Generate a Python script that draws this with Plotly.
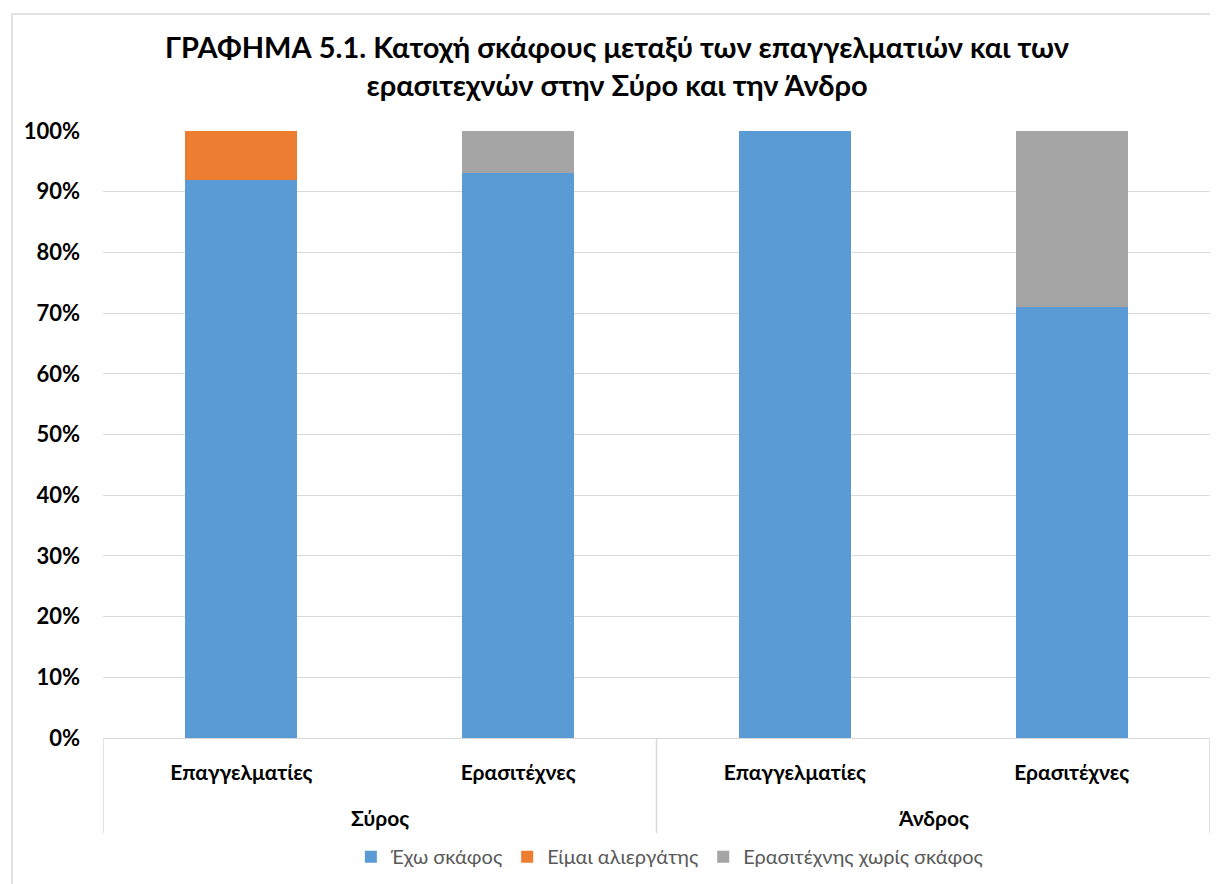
import plotly.graph_objects as go

islands = ["Σύρος", "Σύρος", "Άνδρος", "Άνδρος"]
groups = ["Επαγγελματίες", "Ερασιτέχνες", "Επαγγελματίες", "Ερασιτέχνες"]

have_boat = [0.92, 0.93, 1.00, 0.71]
fisher_worker = [0.08, 0.0, 0.0, 0.0]
amateur_no_boat = [0.0, 0.07, 0.0, 0.29]

series = [
    ("Έχω σκάφος", have_boat, "#5b9bd5"),
    ("Είμαι αλιεργάτης", fisher_worker, "#ed7d31"),
    ("Ερασιτέχνης χωρίς σκάφος", amateur_no_boat, "#a5a5a5"),
]

FONT = "Lato"
GRID = "#d9d9d9"
PLOT_H = 607
pos = list(range(len(groups)))

fig = go.Figure()
for name, vals, col in series:
    fig.add_trace(go.Bar(
        x=pos, y=vals, name=name,
        marker=dict(color=col, line=dict(width=0)),
        width=0.405,
    ))

fig.update_layout(
    barmode="stack",
    width=1218, height=884,
    paper_bgcolor="white", plot_bgcolor="white",
    margin=dict(l=95, r=16, t=123, b=154),
    font=dict(family=FONT, color="#000000"),
    title=dict(
        text="<b>ΓΡΑΦΗΜΑ 5.1. Κατοχή σκάφους μεταξύ των επαγγελματιών και των<br>ερασιτεχνών στην Σύρο και την Άνδρο</b>",
        x=0.5, xref="container", xanchor="center",
        y=0.943, yref="container", yanchor="top",
        font=dict(size=29, family=FONT, color="#000000"),
    ),
    legend=dict(
        orientation="h", x=0.543, xanchor="center", xref="container",
        y=0.04, yanchor="middle", yref="container",
        font=dict(size=20, color="#595959", family=FONT),
        traceorder="normal", itemwidth=30,
    ),
    showlegend=True,
)

fig.update_yaxes(
    range=[0, 1], tickformat=".0%", dtick=0.1,
    gridcolor=GRID, gridwidth=1,
    tickfont=dict(size=22, family=FONT, color="#000000"),
    tickprefix="<b>", ticksuffix="</b>",
    ticklabelstandoff=22,
    zeroline=False, showline=False,
)
fig.update_xaxes(
    range=[-0.5, len(groups) - 0.5],
    tickvals=pos, ticktext=[f"<b>{g}</b>" for g in groups],
    tickfont=dict(size=21, family=FONT, color="#000000"),
    ticklabelstandoff=16,
    showline=True, linecolor=GRID, linewidth=1,
    showgrid=False, zeroline=False, ticks="",
)

# group labels and dividers (multi-level category axis)
unique_islands = list(dict.fromkeys(islands))
bounds = [-0.5]
for isl in unique_islands:
    idx = [i for i, v in enumerate(islands) if v == isl]
    fig.add_annotation(
        x=sum(idx) / len(idx), xref="x", y=0, yref="paper",
        yshift=-79, yanchor="middle", showarrow=False,
        text=f"<b>{isl}</b>", font=dict(size=21, family=FONT, color="#000000"),
    )
    bounds.append(max(idx) + 0.5)
for b in bounds:
    fig.add_shape(type="line", xref="x", yref="paper",
                  x0=b, x1=b, y0=0, y1=-95 / PLOT_H,
                  line=dict(color=GRID, width=1.5))

# chart-area border
fig.add_shape(type="rect", xref="paper", yref="paper",
              x0=-0.0822, x1=1.03, y0=-0.3, y1=1.1928,
              line=dict(color=GRID, width=1.5), layer="below")

fig.write_html("out.html")
